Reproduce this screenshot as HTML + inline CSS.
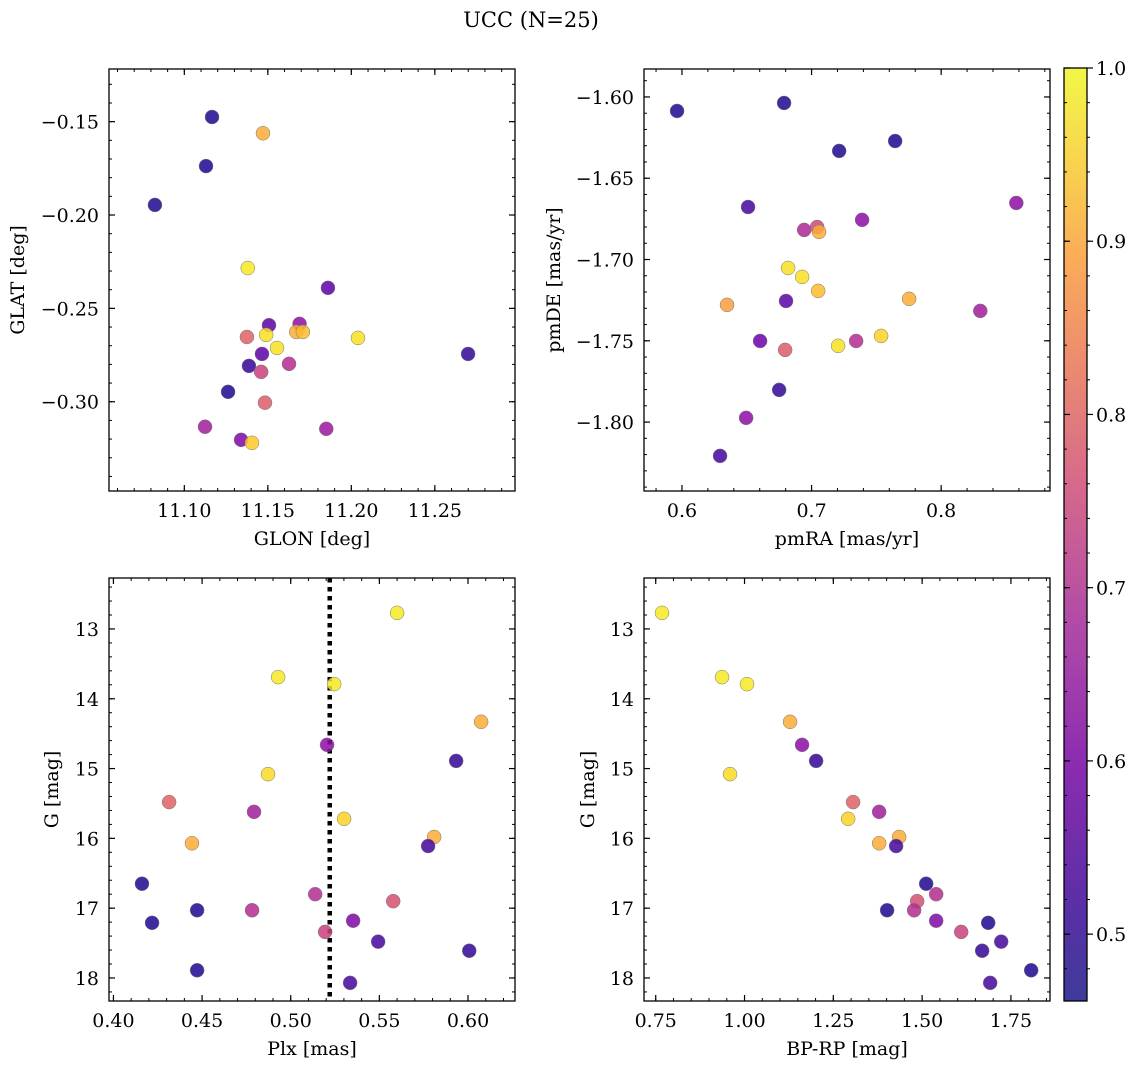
<!DOCTYPE html>
<html><head><meta charset="utf-8"><style>
html,body{margin:0;padding:0;background:#fff;}
svg{display:block;font-family:"DejaVu Serif","Liberation Serif",serif;}
</style></head><body>
<svg id="fig" width="1136" height="1068" viewBox="0 0 1136 1068" xmlns="http://www.w3.org/2000/svg">
<defs><linearGradient id="cb" x1="0" y1="1" x2="0" y2="0">
<stop offset="0" stop-color="#3f3b9a"/><stop offset="0.1" stop-color="#5a2fa6"/><stop offset="0.25" stop-color="#8a2bb0"/><stop offset="0.4" stop-color="#b04aa8"/><stop offset="0.55" stop-color="#d5688c"/><stop offset="0.68" stop-color="#ec8a70"/><stop offset="0.8" stop-color="#fbad58"/><stop offset="0.9" stop-color="#f8d44e"/><stop offset="1" stop-color="#f1f748"/>
</linearGradient></defs>
<text x="531" y="27" font-size="21" text-anchor="middle">UCC (N=25)</text>
</svg>
<script>
// Panel 1: GLON / GLAT
const glon=[11.1166,11.1471,11.113,11.0824,11.138,11.186,11.1507,11.169,11.1375,11.149,11.167,11.171,11.204,11.1555,11.1465,11.2699,11.1387,11.1627,11.146,11.1483,11.1262,11.1124,11.185,11.134,11.1405];
const glat=[-0.1475,-0.1562,-0.1738,-0.1946,-0.2284,-0.239,-0.259,-0.2583,-0.2653,-0.2642,-0.2626,-0.2626,-0.2658,-0.2712,-0.2744,-0.2744,-0.2808,-0.2797,-0.284,-0.3005,-0.2947,-0.3134,-0.3145,-0.3204,-0.322];
const c1=[0.48,0.9,0.48,0.48,0.98,0.55,0.55,0.62,0.78,0.97,0.9,0.92,0.97,0.97,0.55,0.5,0.5,0.68,0.72,0.77,0.48,0.65,0.64,0.6,0.94];
// Panel 2: pmRA / pmDE
const pmra=[0.5962,0.6788,0.7213,0.7645,0.651,0.858,0.739,0.6943,0.7043,0.7058,0.6819,0.6927,0.7051,0.6348,0.6803,0.7753,0.8302,0.6603,0.7344,0.6796,0.7205,0.7537,0.675,0.6495,0.6294];
const pmde=[-1.6086,-1.6037,-1.6332,-1.6271,-1.6677,-1.6652,-1.6756,-1.6818,-1.680,-1.683,-1.7052,-1.7107,-1.7193,-1.7279,-1.7255,-1.7242,-1.7316,-1.7501,-1.7501,-1.7556,-1.7531,-1.747,-1.7802,-1.7974,-1.8208];
const c2=[0.48,0.48,0.48,0.48,0.52,0.62,0.62,0.67,0.73,0.9,0.97,0.97,0.92,0.88,0.55,0.9,0.65,0.57,0.68,0.77,0.97,0.95,0.5,0.62,0.52];
// Panels 3,4: Plx, BP-RP, G
const plx=[0.560,0.4929,0.5245,0.6074,0.5205,0.5933,0.4872,0.4314,0.4793,0.5301,0.4443,0.5809,0.5775,0.4161,0.5138,0.5578,0.4472,0.4782,0.4218,0.5194,0.5352,0.5493,0.6007,0.4472,0.5335];
const bprp=[0.7677,0.9367,1.007,1.1283,1.162,1.2015,0.9593,1.3057,1.379,1.2917,1.379,1.4353,1.4268,1.5114,1.5395,1.486,1.4014,1.4775,1.686,1.610,1.5395,1.7226,1.669,1.807,1.6916];
const gmag=[12.77,13.69,13.79,14.33,14.66,14.89,15.08,15.48,15.62,15.72,16.07,15.98,16.11,16.65,16.80,16.90,17.03,17.03,17.21,17.34,17.18,17.48,17.61,17.89,18.07];
const c3=[0.98,0.98,0.98,0.9,0.62,0.5,0.96,0.78,0.65,0.95,0.9,0.9,0.52,0.48,0.68,0.75,0.48,0.68,0.48,0.72,0.6,0.52,0.5,0.48,0.52];
const plxLine=[0.522];
const cbTicks=[0.5,0.6,0.7,0.8,0.9,1.0];

const NS='http://www.w3.org/2000/svg';
const svg=document.getElementById('fig');
const FS=19;
function mk(tag,attrs,parent){const e=document.createElementNS(NS,tag);for(const k in attrs)e.setAttribute(k,attrs[k]);(parent||svg).appendChild(e);return e;}
const stops=[[0,[13,8,135]],[0.1,[65,4,157]],[0.2,[106,0,168]],[0.3,[143,13,164]],[0.4,[177,42,144]],[0.5,[204,71,120]],[0.6,[225,100,98]],[0.7,[242,132,75]],[0.8,[252,166,54]],[0.9,[252,206,37]],[1,[240,249,33]]];
const vmin=0.4614,vmax=1.0;
function cmap(v){let t=(v-vmin)/(vmax-vmin);t=Math.max(0,Math.min(1,t));for(let i=0;i<stops.length-1;i++){if(t<=stops[i+1][0]){const f=(t-stops[i][0])/(stops[i+1][0]-stops[i][0]);const a=stops[i][1],b=stops[i+1][1];return 'rgb('+a.map((x,j)=>Math.round(x+(b[j]-x)*f)).join(',')+')';}}return 'rgb(240,249,33)';}
function fmt(v,d){const s=Math.abs(v).toFixed(d);return (v<0?'\u2212':'')+s;}

function panel(o){
  const g=mk('g',{});
  
  
  const L=o.x,T=o.y,W=o.w,H=o.h;
  const sx=v=>L+(v-o.xr[0])/(o.xr[1]-o.xr[0])*W;
  const sy=o.yinv?(v=>T+(v-o.yr[0])/(o.yr[1]-o.yr[0])*H):(v=>T+H-(v-o.yr[0])/(o.yr[1]-o.yr[0])*H);
  const eps=1e-9;
  for(let v=Math.ceil(o.xr[0]/o.xmin-eps)*o.xmin;v<=o.xr[1]+eps;v+=o.xmin){const X=sx(v);mk('line',{x1:X,x2:X,y1:T+H,y2:T+H-3,stroke:'#000','stroke-width':1},g);mk('line',{x1:X,x2:X,y1:T,y2:T+3,stroke:'#000','stroke-width':1},g);}
  for(let v=Math.ceil(o.yr[0]/o.ymin-eps)*o.ymin;v<=o.yr[1]+eps;v+=o.ymin){const Y=sy(v);mk('line',{x1:L,x2:L+3,y1:Y,y2:Y,stroke:'#000','stroke-width':1},g);mk('line',{x1:L+W,x2:L+W-3,y1:Y,y2:Y,stroke:'#000','stroke-width':1},g);}
  o.xt.forEach(v=>{const X=sx(v);mk('line',{x1:X,x2:X,y1:T+H,y2:T+H-6,stroke:'#000','stroke-width':1.2},g);mk('line',{x1:X,x2:X,y1:T,y2:T+6,stroke:'#000','stroke-width':1.2},g);
    const t=mk('text',{x:X,y:T+H+26,'font-size':FS,'text-anchor':'middle'},g);t.textContent=fmt(v,o.xd);
    });
  o.yt.forEach(v=>{const Y=sy(v);mk('line',{x1:L,x2:L+6,y1:Y,y2:Y,stroke:'#000','stroke-width':1.2},g);mk('line',{x1:L+W,x2:L+W-6,y1:Y,y2:Y,stroke:'#000','stroke-width':1.2},g);
    const t=mk('text',{x:L-10,y:Y+7,'font-size':FS,'text-anchor':'end'},g);t.textContent=fmt(v,o.yd);
    });
  if(o.vline!==undefined){const X=sx(o.vline);const ln=mk('line',{x1:X,x2:X,y1:T,y2:T+H,stroke:'#000','stroke-width':4.5,'stroke-dasharray':'4.5,4.5'},g);
    }
  o.xs.forEach((xv,i)=>{const c=mk('circle',{cx:sx(xv),cy:sy(o.ys[i]),r:7,fill:cmap(o.cs[i]),'fill-opacity':0.85,stroke:'#777','stroke-width':0.5},g);
    });
  const fr=mk('rect',{x:L,y:T,width:W,height:H,fill:'none',stroke:'#000','stroke-width':1.3},g);
  
  const xl=mk('text',{x:L+W/2,y:T+H+54,'font-size':FS,'text-anchor':'middle'},g);xl.textContent=o.xlab;
  
  const yl=mk('text',{x:0,y:0,'font-size':FS,'text-anchor':'middle',transform:'translate('+o.ylx+','+(T+H/2)+') rotate(-90)'},g);yl.textContent=o.ylab;
  
}
panel({name:'glon-glat-panel',x:109,y:69,w:406,h:422,xr:[11.0549,11.298],yr:[-0.3478,-0.1218],xt:[11.10,11.15,11.20,11.25],xd:2,yt:[-0.15,-0.20,-0.25,-0.30],yd:2,xmin:0.01,ymin:0.01,xs:glon,ys:glat,cs:c1,xlab:'GLON [deg]',ylab:'GLAT [deg]',ylx:24});
panel({name:'pm-panel',x:644,y:69,w:406,h:422,xr:[0.5707,0.884],yr:[-1.8424,-1.5828],xt:[0.6,0.7,0.8],xd:1,yt:[-1.60,-1.65,-1.70,-1.75,-1.80],yd:2,xmin:0.02,ymin:0.01,xs:pmra,ys:pmde,cs:c2,xlab:'pmRA [mas/yr]',ylab:'pmDE [mas/yr]',ylx:560});
panel({name:'plx-g-panel',x:109,y:578,w:406,h:423,xr:[0.3975,0.6265],yr:[12.27,18.33],yinv:true,xt:[0.40,0.45,0.50,0.55,0.60],xd:2,yt:[13,14,15,16,17,18],yd:0,xmin:0.01,ymin:0.2,xs:plx,ys:gmag,cs:c3,xlab:'Plx [mas]',ylab:'G [mag]',ylx:58,vline:plxLine[0]});
panel({name:'cmd-panel',x:644,y:578,w:406,h:423,xr:[0.717,1.86],yr:[12.27,18.33],yinv:true,xt:[0.75,1.00,1.25,1.50,1.75],xd:2,yt:[13,14,15,16,17,18],yd:0,xmin:0.05,ymin:0.2,xs:bprp,ys:gmag,cs:c3,xlab:'BP-RP [mag]',ylab:'G [mag]',ylx:594});

const cg=mk('g',{});


const CT=68,CB=1001,CL=1064,CW=23;
const cy=v=>CB-(v-vmin)/(vmax-vmin)*(CB-CT);
mk('rect',{x:CL,y:CT,width:CW,height:CB-CT,fill:'url(#cb)',stroke:'#000','stroke-width':1.3},cg);
for(let v=0.48;v<=1.0001;v+=0.02){const Y=cy(v);mk('line',{x1:CL+CW,x2:CL+CW+3,y1:Y,y2:Y,stroke:'#000','stroke-width':1},cg);mk('line',{x1:CL,x2:CL+3,y1:Y,y2:Y,stroke:'#000','stroke-width':1},cg);}
cbTicks.forEach(v=>{const Y=cy(v);mk('line',{x1:CL+CW,x2:CL+CW+6,y1:Y,y2:Y,stroke:'#000','stroke-width':1.2},cg);mk('line',{x1:CL,x2:CL+6,y1:Y,y2:Y,stroke:'#000','stroke-width':1.2},cg);
  const t=mk('text',{x:CL+CW+9,y:Y+7,'font-size':FS},cg);t.textContent=v.toFixed(1);
  });
</script>
</body></html>
